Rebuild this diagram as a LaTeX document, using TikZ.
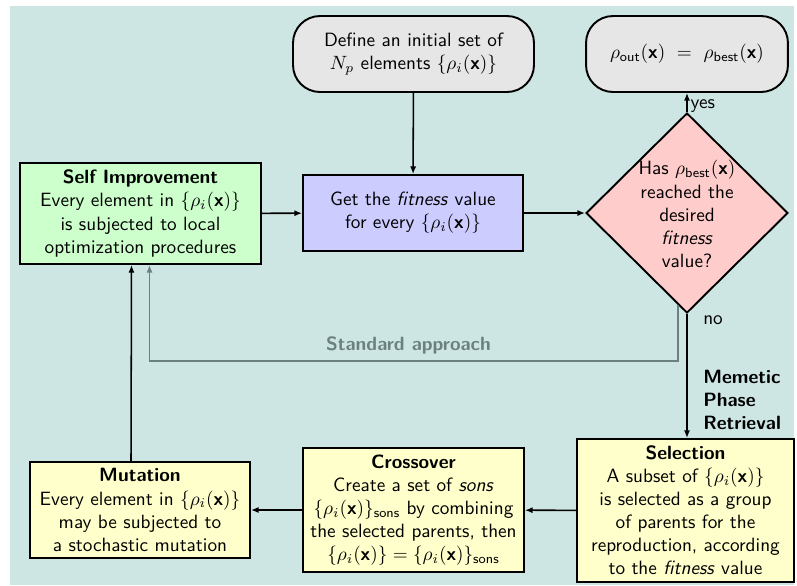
\documentclass[tikz,border=0pt]{standalone}
\usepackage{amsmath}
\usetikzlibrary{shapes.geometric,arrows.meta,calc}
\renewcommand{\familydefault}{\sfdefault}
\definecolor{bgteal}{RGB}{205,230,227}
\definecolor{termgray}{RGB}{230,230,230}
\definecolor{selfgreen}{RGB}{204,255,204}
\definecolor{fitblue}{RGB}{204,204,255}
\definecolor{decpink}{RGB}{255,204,204}
\definecolor{opyellow}{RGB}{255,255,204}
\definecolor{stdgray}{RGB}{108,128,128}
\newcommand{\rhox}{\rho_i(\textbf{x})}
\begin{document}
\begin{tikzpicture}[x=0.52pt,y=-0.52pt,
  every node/.style={font=\sffamily},
  term/.style={draw, line width=1pt, fill=termgray, rounded corners=14pt, align=center, inner sep=2pt},
  proc/.style={draw, line width=1pt, align=center, inner sep=2pt},
  op/.style={proc, fill=opyellow},
  arr/.style={line width=0.8pt, -{Latex[length=4pt,width=3.2pt]}},
  stdline/.style={draw=stdgray, line width=0.8pt, -{Latex[length=4pt,width=3.2pt]}}
]
\useasboundingbox (0,0) rectangle (797,585);
\fill[bgteal] (10,6) rectangle (794,585);

\node[term, minimum width=125.3pt, minimum height=39.5pt] (start) at (413.5,54)
  {Define an initial set of\\ $N_p$ elements $\{\rhox\}$};
\node[term, minimum width=105pt, minimum height=39.5pt] (out) at (687,54)
  {$\rho_{\text{out}}(\textbf{x})\ =\ \rho_{\text{best}}(\textbf{x})$};
\node[proc, fill=selfgreen, minimum width=125.3pt, minimum height=52.5pt] (self) at (140.5,213.5)
  {\textbf{Self Improvement}\\ Every element in $\{\rhox\}$\\ is subjected to local\\ optimization procedures};
\node[proc, fill=fitblue, minimum width=114.4pt, minimum height=39.5pt] (fit) at (413,213)
  {Get the \textit{fitness} value\\ for every $\{\rhox\}$};
\node[diamond, draw, fill=decpink, line width=1pt, minimum width=105pt, minimum height=104pt, inner sep=0pt] (dec) at (687,213) {};
\node[align=center, inner sep=0pt] (dectext) at (687,214)
  {Has $\rho_{\text{best}}(\textbf{x})$\\ reached the\\ desired\\ \textit{fitness}\\ value?};
\node[op, minimum width=112.8pt, minimum height=74.4pt] (sel) at (685.5,510.5)
  {\textbf{Selection}\\ A subset of $\{\rhox\}$\\ is selected as a group\\ of parents for the\\ reproduction, according\\ to the \textit{fitness} value};
\node[op, minimum width=114.9pt, minimum height=64.5pt] (cross) at (413.5,510)
  {\textbf{Crossover}\\ Create a set of \textit{sons}\\ $\{\rhox\}_{\text{sons}}$ by combining\\ the selected parents, then\\ $\{\rhox\} = \{\rhox\}_{\text{sons}}$};
\node[op, minimum width=114.4pt, minimum height=49.9pt] (mut) at (140,510)
  {\textbf{Mutation}\\ Every element in $\{\rhox\}$\\ may be subjected to\\ a stochastic mutation};

\draw[arr] (start) -- (fit);
\draw[arr] (self) -- (fit);
\draw[arr] (fit) -- (dec);
\draw[arr] (dec) -- node[right, pos=0.3, inner sep=1.5pt] (yes) {yes} (out);
\draw[arr] (dec.south) -- (dec.south |- sel.north);
\node[anchor=west, inner sep=1pt] (no) at ($(dec.south)+(14,6)$) {no};
\node[anchor=south west, align=left, font=\sffamily\bfseries, inner sep=1pt] (memetic) at ($(dec.south |- sel.north)+(14,-6)$)
  {Memetic\\ Phase\\ Retrieval};
\draw[arr] (sel) -- (cross);
\draw[arr] (cross) -- (mut);
\draw[arr] ($(mut.north)+(-9,0)$) -- ($(self.south)+(-9,0)$);

\coordinate (stdstart) at ($(dec.south)+(-9,-9)$);
\coordinate (stdlevel) at (0,361);
\coordinate (selfarr) at ($(self.south)+(9,0)$);
\draw[stdline] (stdstart) -- (stdstart |- stdlevel) coordinate (c1)
  -- node[above, text=stdgray, font=\sffamily\bfseries, pos=0.51] (stdlabel) {Standard approach} (c1 -| selfarr) -- (selfarr);
\end{tikzpicture}
\end{document}
